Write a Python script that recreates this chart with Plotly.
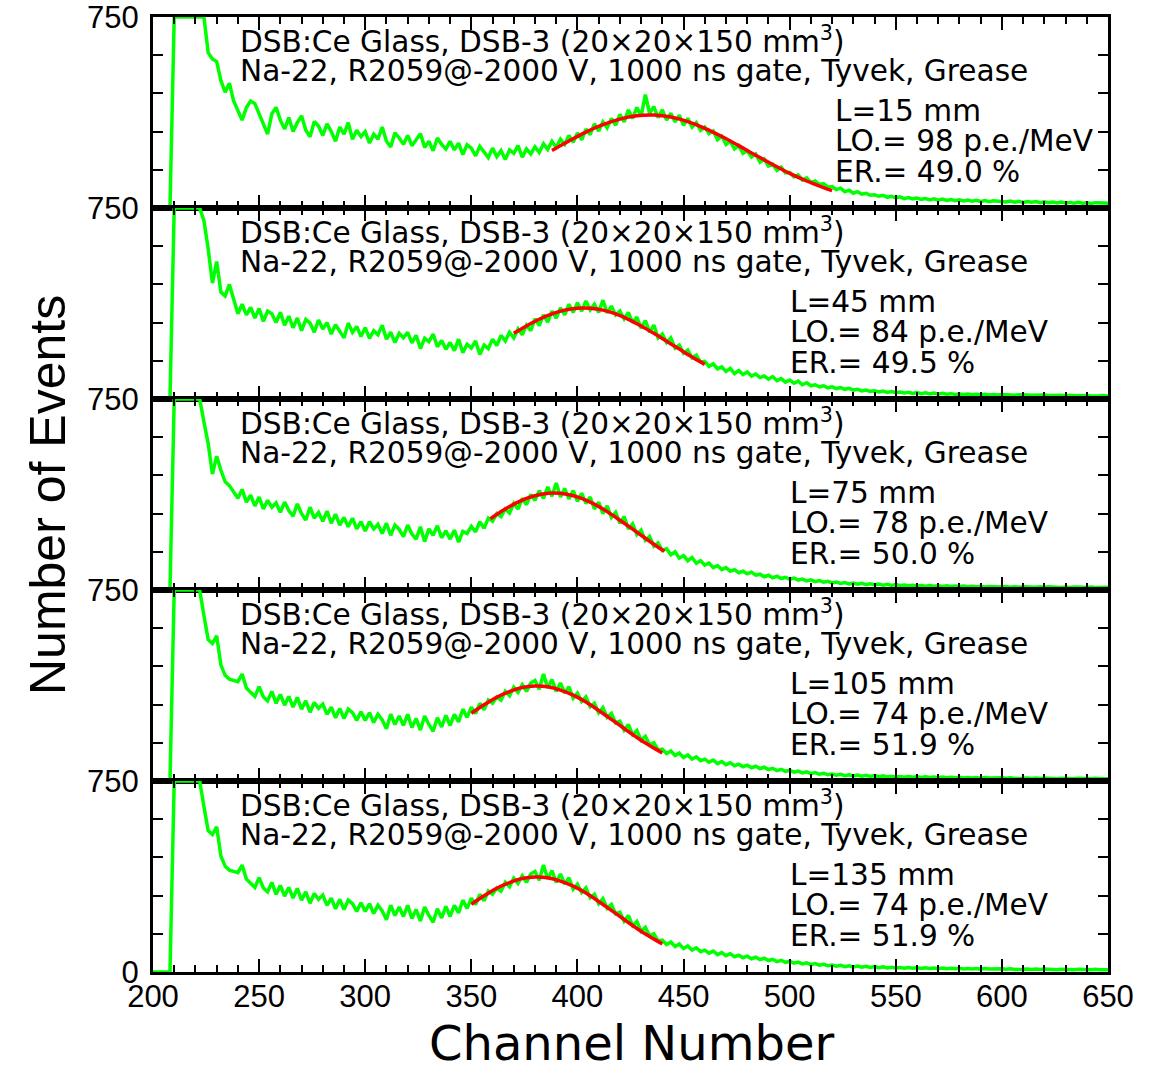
import plotly.graph_objects as go
from plotly.subplots import make_subplots

# ---------------- data ----------------
channels = list(range(200, 651, 2))

counts_L15 = [
    0, 0, 0, 0, 0, 750, 750, 750, 750, 750,
    750, 750, 750, 610, 585, 575, 500, 455, 490, 420,
    380, 345, 395, 420, 410, 370, 330, 290, 370, 395,
    345, 310, 355, 300, 335, 362, 305, 280, 340, 322,
    285, 330, 300, 262, 318, 290, 335, 270, 305, 280,
    300, 255, 290, 270, 318, 262, 240, 295, 275, 250,
    285, 245, 268, 292, 238, 262, 225, 275, 250, 232,
    262, 228, 255, 210, 248, 235, 205, 242, 220, 198,
    235, 202, 225, 190, 228, 215, 245, 200, 232, 212,
    240, 218, 252, 230, 262, 238, 270, 250, 285, 258,
    295, 268, 310, 288, 330, 302, 338, 315, 352, 325,
    368, 338, 385, 352, 395, 360, 445, 372, 398, 355,
    385, 345, 372, 338, 365, 325, 352, 318, 335, 305,
    318, 292, 302, 268, 282, 250, 262, 232, 245, 215,
    225, 200, 212, 180, 192, 165, 172, 148, 160, 138,
    140, 122, 130, 110, 118, 100, 106, 92, 96, 82,
    84, 72, 78, 64, 70, 58, 64, 54, 58, 50,
    52, 46, 50, 42, 46, 40, 44, 37, 41, 36,
    39, 34, 37, 32, 36, 31, 35, 30, 33, 29,
    32, 28, 31, 27, 30, 26, 29, 25, 28, 26,
    27, 24, 27, 23, 26, 22, 25, 23, 25, 21,
    24, 21, 23, 20, 23, 20, 22, 19, 22, 19,
    21, 18, 21, 19, 20, 19,
]

counts_L45 = [
    0, 0, 0, 0, 0, 750, 750, 750, 750, 750,
    750, 750, 700, 590, 455, 540, 420, 405, 450, 395,
    335, 372, 330, 360, 318, 355, 305, 345, 335, 300,
    340, 290, 325, 280, 318, 268, 312, 298, 262, 310,
    275, 300, 255, 292, 268, 240, 298, 262, 285, 245,
    280, 238, 268, 252, 290, 235, 262, 222, 258, 240,
    262, 220, 250, 198, 238, 225, 255, 205, 230, 195,
    222, 190, 235, 182, 215, 200, 228, 175, 212, 198,
    235, 210, 250, 228, 262, 240, 275, 252, 290, 268,
    315, 288, 330, 302, 345, 318, 358, 330, 372, 340,
    378, 345, 385, 350, 372, 340, 388, 338, 365, 330,
    345, 315, 340, 300, 322, 278, 308, 262, 290, 240,
    255, 222, 240, 200, 212, 180, 192, 162, 172, 145,
    148, 128, 138, 118, 126, 108, 120, 100, 112, 96,
    106, 90, 98, 84, 90, 78, 88, 72, 80, 66,
    74, 62, 70, 56, 64, 52, 56, 48, 52, 44,
    48, 41, 45, 38, 42, 35, 38, 32, 35, 30,
    32, 28, 31, 26, 29, 25, 27, 24, 26, 22,
    25, 21, 24, 20, 23, 19, 22, 19, 21, 18,
    20, 18, 20, 17, 19, 17, 19, 16, 18, 16,
    18, 16, 17, 15, 17, 15, 16, 15, 16, 14,
    16, 14, 15, 13, 15, 13, 15, 13, 14, 13,
    14, 12, 14, 13, 14, 12,
]

counts_L75 = [
    0, 0, 0, 0, 0, 750, 750, 750, 750, 750,
    750, 750, 660, 575, 455, 525, 470, 425, 410, 385,
    360, 395, 345, 372, 330, 365, 318, 352, 325, 342,
    305, 345, 312, 290, 338, 300, 275, 325, 282, 305,
    270, 310, 262, 298, 255, 285, 248, 282, 240, 268,
    232, 268, 240, 258, 222, 262, 215, 255, 238, 210,
    255, 220, 200, 248, 190, 240, 215, 252, 205, 232,
    200, 235, 188, 230, 222, 250, 228, 268, 242, 282,
    270, 300, 288, 318, 302, 340, 318, 360, 335, 375,
    352, 390, 360, 405, 368, 420, 365, 398, 358, 390,
    348, 380, 340, 365, 318, 345, 300, 330, 285, 305,
    262, 288, 240, 260, 218, 235, 195, 210, 172, 185,
    155, 162, 138, 150, 125, 135, 115, 128, 105, 115,
    98, 106, 88, 96, 80, 88, 74, 80, 68, 74,
    64, 70, 58, 62, 52, 58, 48, 54, 45, 50,
    42, 47, 39, 43, 36, 40, 33, 37, 31, 34,
    28, 31, 26, 29, 24, 27, 23, 26, 21, 24,
    21, 23, 19, 22, 18, 21, 18, 20, 17, 19,
    16, 18, 15, 18, 15, 17, 14, 17, 14, 16,
    14, 16, 13, 15, 13, 15, 12, 14, 13, 15,
    12, 14, 11, 13, 11, 13, 12, 13, 11, 13,
    11, 13, 11, 12, 10, 12, 10, 12, 10, 11,
    10, 12, 10, 11, 10, 11,
]

counts_L105 = [
    0, 0, 0, 0, 0, 750, 750, 750, 750, 750,
    750, 750, 650, 555, 540, 570, 455, 415, 400, 395,
    390, 420, 365, 348, 332, 370, 330, 315, 352, 305,
    340, 298, 332, 290, 328, 282, 315, 270, 308, 285,
    302, 262, 290, 248, 285, 245, 282, 268, 238, 272,
    238, 268, 230, 262, 240, 205, 262, 222, 255, 218,
    262, 210, 245, 200, 255, 222, 195, 248, 212, 258,
    218, 262, 232, 282, 250, 290, 265, 305, 280, 318,
    305, 330, 318, 352, 335, 368, 348, 378, 352, 385,
    395, 360, 420, 365, 398, 352, 385, 345, 370, 325,
    345, 312, 330, 292, 305, 268, 288, 250, 265, 228,
    235, 200, 222, 182, 198, 160, 175, 142, 150, 122,
    125, 108, 118, 100, 110, 92, 102, 86, 95, 80,
    86, 74, 82, 68, 76, 64, 72, 60, 66, 56,
    62, 52, 58, 49, 54, 45, 50, 41, 46, 38,
    42, 35, 39, 32, 36, 29, 33, 27, 30, 25,
    27, 23, 26, 21, 24, 20, 23, 19, 22, 18,
    21, 17, 20, 16, 19, 16, 18, 15, 18, 15,
    17, 14, 17, 14, 16, 13, 16, 13, 15, 13,
    15, 12, 14, 12, 14, 11, 14, 12, 13, 11,
    13, 11, 13, 10, 12, 11, 12, 10, 12, 10,
    12, 10, 11, 9, 11, 10, 11, 9, 11, 9,
    10, 9, 11, 9, 10, 9,
]

# the L=135 mm spectrum in the picture is the same as the L=105 mm one
counts_L135 = list(counts_L105)

fit_ch_L15 = [388, 396, 404, 412, 420, 428, 436, 444, 452, 460, 468, 476, 484, 492, 500, 508, 516, 520]
fit_val_L15 = [226, 263, 298, 327, 349, 362, 365, 357, 339, 313, 281, 245, 207, 171, 136, 106, 80, 68]

fit_ch_L45 = [370, 376, 382, 388, 394, 400, 406, 412, 418, 424, 430, 436, 442, 448, 454, 460]
fit_val_L45 = [258, 287, 313, 334, 349, 356, 356, 349, 334, 313, 287, 258, 227, 196, 165, 136]

fit_ch_L75 = [359, 365, 371, 377, 383, 389, 395, 401, 407, 413, 419, 425, 431, 437, 441]
fit_val_L75 = [280, 313, 341, 363, 376, 381, 376, 363, 341, 313, 280, 245, 209, 174, 152]

fit_ch_L105 = [350, 356, 362, 368, 374, 380, 386, 392, 398, 404, 410, 416, 422, 428, 434, 440]
fit_val_L105 = [266, 299, 329, 351, 367, 373, 370, 357, 337, 310, 277, 242, 206, 171, 139, 110]

fit_ch_L135 = list(fit_ch_L105)
fit_val_L135 = list(fit_val_L105)

lengths_mm = [15, 45, 75, 105, 135]
light_output = [98, 84, 78, 74, 74]
energy_res = ["49.0", "49.5", "50.0", "51.9", "51.9"]

x_tick_vals = [200, 250, 300, 350, 400, 450, 500, 550, 600, 650]
y_tick_vals = [0, 150, 300, 450, 600, 750]

title_line1 = "DSB:Ce Glass, DSB-3 (20\u00d720\u00d7150 mm<sup>3</sup>)"
title_line2 = "Na-22, R2059@-2000 V, 1000 ns gate, Tyvek, Grease"

spectra = [counts_L15, counts_L45, counts_L75, counts_L105, counts_L135]
fits = [(fit_ch_L15, fit_val_L15), (fit_ch_L45, fit_val_L45), (fit_ch_L75, fit_val_L75),
        (fit_ch_L105, fit_val_L105), (fit_ch_L135, fit_val_L135)]
for s in spectra:
    assert len(s) == len(channels), len(s)

# ---------------- figure ----------------
W, H = 1156, 1069
ML, MR, MT, MB = 153, 48, 17, 97
PW, PH = W - ML - MR, H - MT - MB

fig = make_subplots(rows=5, cols=1, shared_xaxes=True, vertical_spacing=0)

for i in range(5):
    fig.add_trace(go.Scatter(x=channels, y=spectra[i], mode="lines",
                             line=dict(color="#00ff00", width=3.5), hoverinfo="skip"),
                  row=i + 1, col=1)
    fig.add_trace(go.Scatter(x=fits[i][0], y=fits[i][1], mode="lines",
                             line=dict(color="#ff0000", width=3.5, shape="spline"), hoverinfo="skip"),
                  row=i + 1, col=1)

TICKFONT = dict(family="Liberation Sans, Arial, sans-serif", size=31, color="black")

for i in range(5):
    fig.update_xaxes(row=i + 1, col=1, range=[200, 650], tickvals=x_tick_vals,
                     ticks="inside", ticklen=13, tickwidth=2, tickcolor="black",
                     minor=dict(dtick=10, tick0=200, ticks="inside", ticklen=7, tickwidth=2, tickcolor="black"),
                     showline=True, linewidth=3, linecolor="black", mirror="ticks",
                     showgrid=False, zeroline=False, automargin=False,
                     showticklabels=(i == 4), tickfont=TICKFONT, ticklabelstandoff=-5,
                     ticklabeloverflow="allow")
    ttext = ["0" if i == 4 else "", "", "", "", "", "750"]
    fig.update_yaxes(row=i + 1, col=1, range=[0, 750], tickvals=y_tick_vals, ticktext=ttext,
                     ticks="inside", ticklen=10, tickwidth=2, tickcolor="black",
                     showline=True, linewidth=3, linecolor="black", mirror="ticks",
                     showgrid=False, zeroline=False, automargin=False,
                     tickfont=TICKFONT, ticklabelstandoff=5, ticklabeloverflow="allow")


def px_to_paper(px, py):
    return (px - ML) / PW, (H - MB - py) / PH


TXTFONT = dict(family="DejaVu Sans, sans-serif", size=29.6, color="black")
annotations = []
panel_h = PH / 5
for i in range(5):
    top = MT + panel_h * i
    lx = 835 if i == 0 else 790
    rows = [
        (238, top + 23, title_line1),
        (238, top + 54, title_line2),
        (lx - 2, top + 94, f"L={lengths_mm[i]} mm"),
        (lx - 2, top + 124, f"LO.= {light_output[i]} p.e./MeV"),
        (lx - 2, top + 155, f"ER.= {energy_res[i]} %"),
    ]
    for (px, py, txt) in rows:
        xp, yp = px_to_paper(px, py)
        annotations.append(dict(x=xp, y=yp, xref="paper", yref="paper", text=txt,
                                showarrow=False, xanchor="left", yanchor="middle",
                                font=TXTFONT))

xp, yp = px_to_paper(631, 1043)
annotations.append(dict(x=xp, y=yp, xref="paper", yref="paper", text="Channel Number",
                        showarrow=False, xanchor="center", yanchor="middle",
                        font=dict(family="DejaVu Sans, sans-serif", size=48, color="black")))
xp, yp = px_to_paper(48, 495)
annotations.append(dict(x=xp, y=yp, xref="paper", yref="paper", text="Number of Events",
                        showarrow=False, xanchor="center", yanchor="middle", textangle=-90,
                        font=dict(family="Liberation Sans, Arial, sans-serif", size=50, color="black")))

fig.update_layout(width=W, height=H, margin=dict(l=ML, r=MR, t=MT, b=MB, pad=0, autoexpand=False),
                  paper_bgcolor="white", plot_bgcolor="white", showlegend=False,
                  annotations=annotations)

fig.write_html("out.html")
